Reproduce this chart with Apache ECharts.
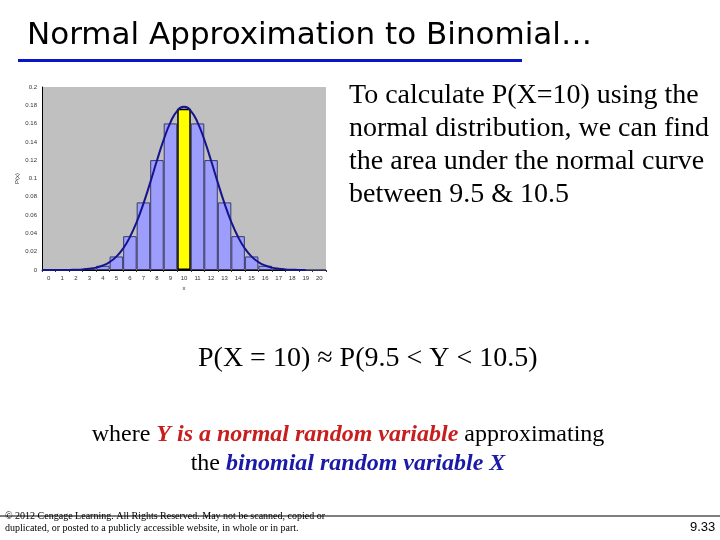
<!DOCTYPE html>
<html>
<head>
<meta charset="utf-8">
<script src="https://cdn.jsdelivr.net/npm/echarts@6/dist/echarts.min.js"></script>
<style>html,body{margin:0;padding:0;background:#fff;}#c{width:720px;height:540px;}</style>
</head>
<body>
<div id="c"></div>
<script>
// ---- data ----
var categories = ['0','1','2','3','4','5','6','7','8','9','10','11','12','13','14','15','16','17','18','19','20'];
var binomProb = [0.0000,0.0000,0.0002,0.0011,0.0046,0.0148,0.0370,0.0739,0.1201,0.1602,0.1762,0.1602,0.1201,0.0739,0.0370,0.0148,0.0046,0.0011,0.0002,0.0000,0.0000];
var highlightIndex = 10;
var curveX = [-0.5,0,0.5,1,1.5,2,2.5,3,3.5,4,4.5,5,5.5,6,6.5,7,7.5,8,8.5,9,9.5,10,10.5,11,11.5,12,12.5,13,13.5,14,14.5,15,15.5,16,16.5,17,17.5,18,18.5,19];
var curveY = [0.0000,0.0000,0.0000,0.0001,0.0001,0.0003,0.0006,0.0013,0.0026,0.0049,0.0087,0.0146,0.0235,0.0360,0.0524,0.0725,0.0955,0.1196,0.1425,0.1614,0.1740,0.1784,0.1740,0.1614,0.1425,0.1196,0.0955,0.0725,0.0524,0.0360,0.0235,0.0146,0.0087,0.0049,0.0026,0.0013,0.0006,0.0003,0.0001,0.0001];
var yTicks = {min:0, max:0.2, interval:0.02};

// hidden value axis runs 0..21 so that category i sits at i+0.5
var curveData = curveX.map(function(x,i){return [x+0.5, curveY[i]];});
var barData = binomProb.map(function(v,i){
  return i===highlightIndex ? {value:v, itemStyle:{color:'#ffff00', borderColor:'#000', borderWidth:1.5}} : v;
});

var chart = echarts.init(document.getElementById('c'), null, {renderer:'canvas'});
var serif = '"Liberation Serif","Times New Roman",serif';
var option = {
  backgroundColor:'#ffffff',
  animation:false,
  grid:{left:42, right:394, top:87, bottom:270, backgroundColor:'#c0c0c0', show:true, borderWidth:0},
  xAxis:[{
    type:'category', data:categories, boundaryGap:true,
    name:'x', nameLocation:'middle', nameGap:15,
    nameTextStyle:{fontSize:6, color:'#333', fontFamily:'Liberation Sans'},
    axisLine:{lineStyle:{color:'#000', width:1}},
    axisTick:{show:true, alignWithLabel:false, length:2, lineStyle:{color:'#333'}},
    axisLabel:{fontSize:6, color:'#333', margin:5, interval:0, fontFamily:'Liberation Sans'}
  },{
    type:'value', min:0, max:21, show:false
  }],
  yAxis:{
    type:'value', min:yTicks.min, max:yTicks.max, interval:yTicks.interval,
    name:'P(x)', nameLocation:'middle', nameGap:22, nameRotate:90,
    nameTextStyle:{fontSize:6, color:'#333', fontFamily:'Liberation Sans'},
    splitLine:{show:false},
    axisLine:{show:true, lineStyle:{color:'#000'}},
    axisTick:{show:false},
    axisLabel:{fontSize:6, color:'#333', margin:5, fontFamily:'Liberation Sans'}
  },
  series:[{
    type:'bar', data:barData, barCategoryGap:'0%', xAxisIndex:0,
    itemStyle:{color:'#9d9dfb', borderColor:'#3a3a6a', borderWidth:1}
  },{
    type:'line', data:curveData, xAxisIndex:1, yAxisIndex:0, smooth:true, symbol:'none',
    lineStyle:{color:'#14148c', width:2}, z:5
  }],
  graphic:[
    {type:'text', left:27, top:20, style:{text:'Normal Approximation to Binomial…', font:'31px "DejaVu Sans", Verdana, sans-serif', fill:'#000'}},
    {type:'rect', shape:{x:18, y:59, width:504, height:3}, style:{fill:'#0a14c8'}},
    {type:'text', left:349, top:79, style:{text:'To calculate P(X=10) using the\nnormal distribution, we can find\nthe area under the normal curve\nbetween 9.5 & 10.5', font:'28px '+serif, lineHeight:33, fill:'#000'}},
    {type:'text', left:198, top:345, style:{text:'P(X = 10) ≈ P(9.5 < Y < 10.5)', font:'28px '+serif, fill:'#000'}},
    {type:'text', x:348, y:420, style:{
      text:'{n|where }{r|Y is a normal random variable}{n| approximating}\n{n|the }{b|binomial random variable X}',
      align:'center', verticalAlign:'top', lineHeight:29,
      rich:{
        n:{fontFamily:'Liberation Serif', fontSize:24, fill:'#000', lineHeight:29},
        r:{fontFamily:'Liberation Serif', fontSize:24, fontStyle:'italic', fontWeight:'bold', fill:'#c81e1e', lineHeight:29},
        b:{fontFamily:'Liberation Serif', fontSize:24, fontStyle:'italic', fontWeight:'bold', fill:'#1a1aa8', lineHeight:29}
      }}},
    {type:'line', shape:{x1:0, y1:516, x2:720, y2:516}, style:{stroke:'#000', lineWidth:1}},
    {type:'text', left:5, top:510, style:{text:'© 2012 Cengage Learning. All Rights Reserved. May not be scanned, copied or\nduplicated, or posted to a publicly accessible website, in whole or in part.', font:'10px '+serif, lineHeight:12, fill:'#000'}},
    {type:'text', left:690, top:521, style:{text:'9.33', font:'13px "Liberation Sans", Arial, sans-serif', fill:'#000'}}
  ]
};
chart.setOption(option);
</script>
</body>
</html>
